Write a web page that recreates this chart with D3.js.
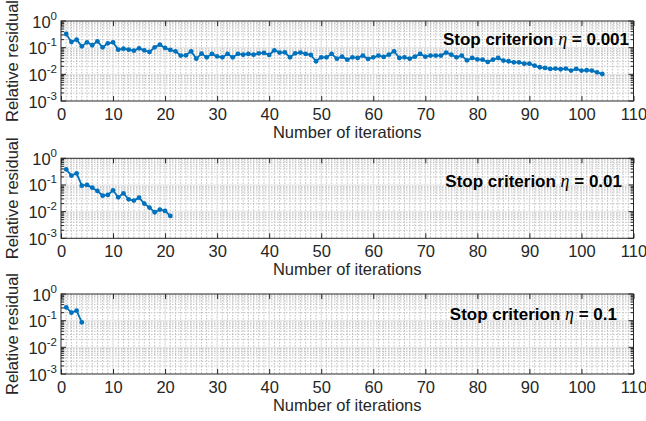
<!DOCTYPE html>
<html><head><meta charset="utf-8">
<script src="https://cdn.jsdelivr.net/npm/d3@7"></script>
<style>
html,body{margin:0;padding:0;background:#fff;}
svg{display:block;font-family:"Liberation Sans",Arial,Helvetica,sans-serif;}
</style></head>
<body><svg id="chart" width="646" height="421"></svg>
<script>
// ---- data ----
const xTicks = [0,10,20,30,40,50,60,70,80,90,100,110];
const yTickExponents = [0,-1,-2,-3];
const criteria = ["0.001","0.01","0.1"];

const residualEta0001 = [0.326,0.163,0.200,0.112,0.159,0.123,0.173,0.103,0.146,0.159,
 0.0844,0.092,0.0844,0.0774,0.0947,0.0797,0.069,0.103,0.130,0.0975,
 0.082,0.0731,0.0503,0.0518,0.0731,0.0388,0.0598,0.0436,0.0581,0.0475,
 0.0436,0.0581,0.0436,0.0581,0.0548,0.0581,0.0548,0.0615,0.0633,0.0533,
 0.0797,0.0652,0.0670,0.0436,0.0615,0.0652,0.0581,0.0533,0.0309,0.0436,
 0.0436,0.0581,0.0388,0.0461,0.0356,0.0436,0.0411,0.0503,0.0377,0.0436,
 0.0503,0.0449,0.0548,0.0731,0.0411,0.0436,0.0388,0.0461,0.0581,0.0461,
 0.0503,0.0503,0.0503,0.0652,0.0548,0.0436,0.0503,0.0336,0.0411,0.0367,
 0.0356,0.0291,0.0356,0.0411,0.0327,0.0309,0.0283,0.0283,0.0252,0.0252,
 0.0212,0.0184,0.0174,0.0159,0.0164,0.0155,0.0164,0.0138,0.0159,0.0138,
 0.0142,0.0138,0.0119,0.0103];
const residualEta001 = [0.386,0.224,0.274,0.0944,0.1,0.0794,0.0596,0.0398,0.0422,0.0631,
 0.0345,0.0488,0.029,0.0259,0.0335,0.02,0.0142,0.00947,0.0119,0.0106,0.0069];
const residualEta01 = [0.316,0.2,0.237,0.087];

const seriesList = [residualEta0001, residualEta001, residualEta01];

// ---- layout ----
const svg = d3.select("#chart");
svg.append("rect").attr("width",646).attr("height",421).attr("fill","#fff");
const left = 61, right = 633.5, ph = 80;
const tops = [21, 158.3, 294];
const labelEnd = [629, 622, 617];
const labelBase = [24, 28.5, 26];
const axisCol = "#262626";
const lineCol = "#0072BD";

const x = d3.scaleLinear().domain([0,110]).range([left,right]);

seriesList.forEach((vals, p) => {
  const top = tops[p], bottom = top + ph;
  const y = d3.scaleLog().domain([1e-3,1]).range([bottom, top]);
  const g = svg.append("g");

  // minor grid (dotted)
  const minorX = d3.range(1,110).filter(v => v % 10 !== 0);
  g.selectAll(".mgx").data(minorX).join("line")
    .attr("x1", d=>x(d)).attr("x2", d=>x(d)).attr("y1", top).attr("y2", bottom)
    .attr("stroke","#bdbdbd").attr("stroke-width",1).attr("stroke-dasharray","1.5,1.5");
  const minorY = [];
  [-3,-2,-1].forEach(e => { for (let k=2;k<=9;k++) minorY.push(k*Math.pow(10,e)); });
  g.selectAll(".mgy").data(minorY).join("line")
    .attr("x1", left).attr("x2", right).attr("y1", d=>y(d)).attr("y2", d=>y(d))
    .attr("stroke","#c4c4c4").attr("stroke-width",1).attr("stroke-dasharray","1.5,1.5");
  // major grid
  g.selectAll(".Mgx").data(xTicks.slice(1,-1)).join("line")
    .attr("x1", d=>x(d)).attr("x2", d=>x(d)).attr("y1", top).attr("y2", bottom)
    .attr("stroke","#d9d9d9").attr("stroke-width",1);
  g.selectAll(".Mgy").data([-2,-1]).join("line")
    .attr("x1", left).attr("x2", right).attr("y1", d=>y(Math.pow(10,d))).attr("y2", d=>y(Math.pow(10,d)))
    .attr("stroke","#e3e3e3").attr("stroke-width",1);

  // axes with inward ticks (bottom & top)
  const xb = g.append("g").attr("transform",`translate(0,${bottom})`)
    .call(d3.axisBottom(x).tickValues(xTicks).tickSizeInner(-5).tickSizeOuter(0).tickPadding(7).tickFormat(d3.format("d")));
  xb.select(".domain").remove();
  xb.selectAll("line").attr("stroke",axisCol);
  xb.selectAll("text").attr("fill",axisCol).attr("font-size",16.5).attr("dy","0.71em");
  const xt = g.append("g").attr("transform",`translate(0,${top})`)
    .call(d3.axisTop(x).tickValues(xTicks).tickSizeInner(-5).tickSizeOuter(0).tickFormat(""));
  xt.select(".domain").remove();
  xt.selectAll("line").attr("stroke",axisCol);

  // y ticks left & right (major + minor)
  const majVals = yTickExponents.map(e => Math.pow(10,e));
  [[left,1],[right,-1]].forEach(([ax,dir]) => {
    g.selectAll(null).data(majVals).join("line")
      .attr("x1",ax).attr("x2",ax+dir*5).attr("y1",d=>y(d)).attr("y2",d=>y(d))
      .attr("stroke",axisCol).attr("stroke-width",1);
    g.selectAll(null).data(minorY).join("line")
      .attr("x1",ax).attr("x2",ax+dir*3).attr("y1",d=>y(d)).attr("y2",d=>y(d))
      .attr("stroke",axisCol).attr("stroke-width",1);
  });
  // y tick labels 10^e
  const yl = g.selectAll(".ylab").data(yTickExponents).join("text")
    .attr("x", left-4).attr("y", d=>y(Math.pow(10,d))+6.5)
    .attr("text-anchor","end").attr("fill",axisCol).attr("font-size",16.5);
  yl.append("tspan").text("10");
  yl.append("tspan").attr("font-size",11.5).attr("dy",-8).text(d=>d===0?"0":"-"+(-d));

  // box
  g.append("rect").attr("x",left).attr("y",top).attr("width",right-left).attr("height",ph)
    .attr("fill","none").attr("stroke",axisCol).attr("stroke-width",1);

  // data line + markers
  const pts = vals.map((v,i)=>({it:i+1, v}));
  g.append("path").datum(pts)
    .attr("d", d3.line().x(d=>x(d.it)).y(d=>y(d.v)))
    .attr("fill","none").attr("stroke",lineCol).attr("stroke-width",1.8).attr("stroke-linejoin","round");
  g.selectAll(".pt").data(pts).join("circle")
    .attr("cx",d=>x(d.it)).attr("cy",d=>y(d.v)).attr("r",2.4).attr("fill",lineCol);

  // labels
  g.append("text").attr("x",(left+right)/2).attr("y",bottom+37)
    .attr("text-anchor","middle").attr("fill",axisCol).attr("font-size",16.5)
    .text("Number of iterations");
  g.append("text").attr("transform",`translate(12,${top+ph/2}) rotate(-90)`)
    .attr("dy","0.35em").attr("text-anchor","middle").attr("fill",axisCol).attr("font-size",16.5)
    .text("Relative residual");

  const st = g.append("text").attr("x",labelEnd[p]).attr("y",top+labelBase[p])
    .attr("text-anchor","end").attr("font-size",17).attr("font-weight","bold").attr("fill","#000");
  st.append("tspan").text("Stop criterion ");
  st.append("tspan").attr("font-family","'Liberation Serif',serif").attr("font-style","italic")
    .attr("font-weight","normal").attr("font-size",18).text("η");
  st.append("tspan").text(" = " + criteria[p]);
});
</script></body></html>
